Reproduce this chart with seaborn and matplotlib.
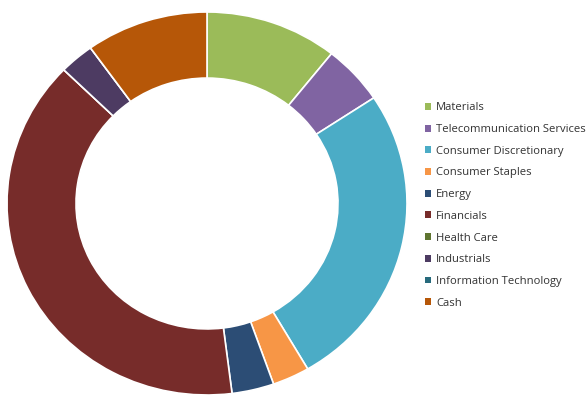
import matplotlib
matplotlib.use("Agg")
import matplotlib.pyplot as plt
from matplotlib.patches import Patch
import seaborn as sns

sectors = ["Materials", "Telecommunication Services", "Consumer Discretionary",
           "Consumer Staples", "Energy", "Financials", "Health Care",
           "Industrials", "Information Technology", "Cash"]
weights = [10.7, 5.0, 25.9, 3.0, 3.4, 39.3, 0.0, 2.8, 0.0, 9.9]
colors = ["#9BBB59", "#8064A2", "#4BACC6", "#F79646", "#2C4D75",
          "#772C2A", "#5F7530", "#4D3B62", "#276A7C", "#B65708"]

sns.set_style("white")
palette = sns.color_palette(colors)
plt.rcParams["font.family"] = ["Open Sans", "DejaVu Sans"]

W, H = 588, 395
fig = plt.figure(figsize=(W / 100, H / 100), dpi=100)
ax = fig.add_axes([7 / W, 0, 400 / W, 383 / H])

ax.pie(weights, colors=palette, startangle=90, counterclock=False,
       radius=1.0, wedgeprops=dict(width=0.345, edgecolor="white", linewidth=1.2))
ax.set_aspect("auto")
ax.set_xlim(-1, 1)
ax.set_ylim(-1, 1)
ax.axis("off")

handles = [Patch(facecolor=c, edgecolor="none") for c in palette]
fig.legend(handles, sectors, loc="center left",
           bbox_to_anchor=(425 / W, 1 - 205.5 / H), frameon=False,
           fontsize=8.1, labelcolor="#333333", handlelength=0.55,
           handleheight=0.55, handletextpad=0.45, labelspacing=0.95,
           borderpad=0, borderaxespad=0)

fig.savefig("out.png", dpi=100, facecolor="white")
